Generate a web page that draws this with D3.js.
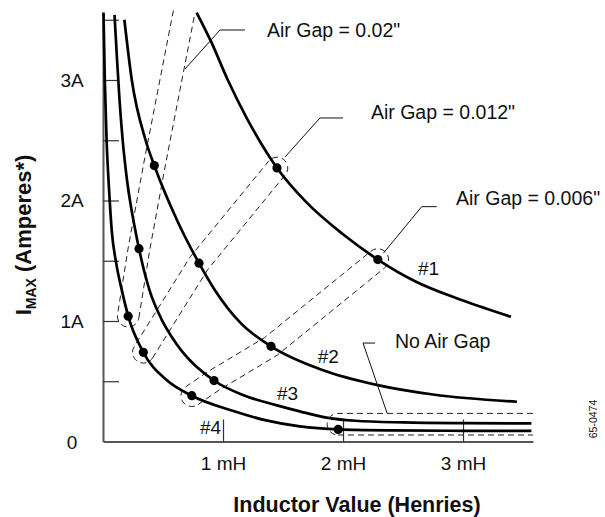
<!DOCTYPE html>
<html><head><meta charset="utf-8">
<script src="https://cdn.jsdelivr.net/npm/d3@7"></script>
<style>
body{margin:0;background:#fff;}
svg text{font-family:"Liberation Sans",Arial,Helvetica,sans-serif;fill:#111;}
</style></head><body>
<svg id="chart" width="605" height="517"></svg>
<script>
// ---------- data (inductance in mH, current in A) ----------
const curveNames = ["#1", "#2", "#3", "#4"];
const curve1 = [[0.78,3.56],[0.90,3.32],[1.04,3.00],[1.20,2.68],[1.45,2.27],[1.70,1.98],[2.00,1.72],[2.29,1.51],[2.60,1.33],[3.00,1.17],[3.40,1.035]];
const curve2 = [[0.178,3.50],[0.24,3.00],[0.355,2.50],[0.4275,2.29],[0.62,1.83],[0.80,1.48],[0.93,1.26],[1.15,0.98],[1.40,0.79],[1.81,0.60],[2.28,0.47],[2.75,0.39],[3.45,0.33]];
const curve3 = [[0.096,3.54],[0.117,3.17],[0.138,2.83],[0.164,2.50],[0.20,2.17],[0.26,1.80],[0.30,1.60],[0.386,1.26],[0.49,1.01],[0.572,0.87],[0.925,0.506],[1.183,0.38],[1.45,0.30],[1.64,0.25],[1.85,0.20],[2.1,0.172],[2.5,0.158],[3.0,0.152],[3.57,0.15]];
const curve4 = [[0.004,3.56],[0.015,3.0],[0.03,2.5],[0.05,2.1],[0.0725,1.755],[0.11,1.48],[0.156,1.26],[0.21,1.04],[0.336,0.74],[0.53,0.51],[0.74,0.38],[1.08,0.255],[1.36,0.175],[1.64,0.125],[1.96,0.100],[2.4,0.092],[3.0,0.089],[3.57,0.088]];

const dots1 = [[1.45,2.27],[2.29,1.51]];
const dots2 = [[0.4275,2.29],[0.80,1.48],[1.40,0.79]];
const dots3 = [[0.30,1.60],[0.925,0.506]];
const dots4 = [[0.21,1.04],[0.336,0.74],[0.74,0.38],[1.96,0.100]];

// air-gap bands (centre line through matching points)
const band002  = [[0.21,1.04],[0.30,1.60],[0.4275,2.29],[0.675,3.56]];
const band0012 = [[0.336,0.74],[0.80,1.48],[1.45,2.27]];
const band0006 = [[0.74,0.38],[0.925,0.506],[1.40,0.79],[2.29,1.51]];
const bandNone = [[1.958,0.1436],[3.583,0.1436]];

const gapLabels = ['Air Gap = 0.02"', 'Air Gap = 0.012"', 'Air Gap = 0.006"', 'No Air Gap'];
const gapLabelAt = [[1.367,3.357],[2.233,2.676],[2.942,1.963],[2.433,0.776]];
const leader002  = [[0.683,3.091],[0.975,3.415],[1.183,3.415]];
const leader0012 = [[1.517,2.361],[1.808,2.685],[2.0,2.685]];
const leader0006 = [[2.336,1.562],[2.656,1.949],[2.781,1.949]];
const leaderNone = [[2.367,0.2365],[2.167,0.817],[2.267,0.817]];

const curveLabelAt = [[2.625,1.382],[1.79,0.651],[1.45,0.344],[0.808,0.062]];

const xTicks = [1, 2, 3];
const xTickLabels = ["1 mH", "2 mH", "3 mH"];
const yTicks = [0.5, 1, 1.5, 2, 2.5, 3, 3.5];
const yLabelValues = [0, 1, 2, 3];
const yLabelTexts = ["0", "1A", "2A", "3A"];

// ---------- drawing ----------
const svg = d3.select("#chart");
const x = d3.scaleLinear().domain([0, 3.5833]).range([103, 533]);
const y = d3.scaleLinear().domain([0, 3.556]).range([441.5, 13]);

// axes
const yAxis = d3.axisLeft(y).tickValues(yTicks).tickSize(-16).tickSizeOuter(0).tickFormat("");
const gy = svg.append("g").attr("transform", `translate(${x(0)},0)`).call(yAxis);
const xAxis = d3.axisBottom(x).tickValues(xTicks).tickSize(-22).tickSizeOuter(0)
  .tickFormat((d, i) => xTickLabels[i]);
const gx = svg.append("g").attr("transform", `translate(0,${y(0)})`).call(xAxis);
[gx, gy].forEach(g => {
  g.select(".domain").attr("stroke", "#555").attr("stroke-width", 2);
  g.selectAll(".tick line").attr("stroke", "#333").attr("stroke-width", 1.2);
});
gx.selectAll(".tick text").attr("y", 28).attr("dy", 0)
  .attr("font-size", 19).attr("fill", "#111").attr("font-family", null);

svg.append("g").selectAll("text").data(yLabelValues).join("text")
  .attr("x", 72).attr("y", d => y(d) + 7)
  .attr("text-anchor", "middle").attr("font-size", 19)
  .text((d, i) => yLabelTexts[i]);

// axis titles
svg.append("text").attr("x", 357).attr("y", 512).attr("text-anchor", "middle")
  .attr("font-size", 21.5).attr("font-weight", "bold").text("Inductor Value (Henries)");
const yt = svg.append("text").attr("transform", "translate(31,235) rotate(-90)")
  .attr("text-anchor", "middle").attr("font-size", 22).attr("font-weight", "bold");
yt.append("tspan").text("I");
yt.append("tspan").attr("font-size", 14).attr("dy", 5).text("MAX");
yt.append("tspan").attr("dy", -5).text(" (Amperes*)");

// bands
function bandPath(data, hw, capStart, capEnd) {
  const p = data.map(d => [x(d[0]), y(d[1])]);
  const n = p.length;
  const segs = [];
  for (let i = 0; i < n - 1; i++) {
    const dx = p[i+1][0] - p[i][0], dy = p[i+1][1] - p[i][1];
    const len = Math.hypot(dx, dy);
    segs.push([-dy / len, dx / len]);
  }
  function off(sign) {
    return p.map((q, i) => {
      if (i === 0) return [q[0] + sign*hw*segs[0][0], q[1] + sign*hw*segs[0][1]];
      if (i === n - 1) return [q[0] + sign*hw*segs[n-2][0], q[1] + sign*hw*segs[n-2][1]];
      const a = segs[i-1], b = segs[i];
      let m = [a[0] + b[0], a[1] + b[1]];
      const ml = Math.hypot(m[0], m[1]); m = [m[0]/ml, m[1]/ml];
      const s = hw / (m[0]*a[0] + m[1]*a[1]);
      return [q[0] + sign*s*m[0], q[1] + sign*s*m[1]];
    });
  }
  const L = off(1), R = off(-1);
  let d = "M" + L.map(q => q.join(",")).join("L");
  if (capEnd) d += `A${hw},${hw} 0 0 0 ${R[n-1].join(",")}`;
  else d += "M" + R[n-1].join(",");
  d += "L" + R.slice().reverse().map(q => q.join(",")).join("L");
  if (capStart) d += `A${hw},${hw} 0 0 0 ${L[0].join(",")}`;
  return d;
}
const bands = [[band002, true, false], [band0012, true, true], [band0006, true, true], [bandNone, true, false]];
svg.append("g").selectAll("path").data(bands).join("path")
  .attr("d", b => bandPath(b[0], 10.8, b[1], b[2]))
  .attr("fill", "none").attr("stroke", "#222").attr("stroke-width", 1)
  .attr("stroke-dasharray", "6,4");

// curves
const line = d3.line().x(d => x(d[0])).y(d => y(d[1])).curve(d3.curveMonotoneX);
svg.append("g").selectAll("path").data([curve1, curve2, curve3, curve4]).join("path")
  .attr("d", line).attr("fill", "none").attr("stroke", "#000").attr("stroke-width", 2.7);

// dots
svg.append("g").selectAll("circle").data([...dots1, ...dots2, ...dots3, ...dots4]).join("circle")
  .attr("cx", d => x(d[0])).attr("cy", d => y(d[1])).attr("r", 4.6).attr("fill", "#000");

// leaders
const leaderLine = d3.line().x(d => x(d[0])).y(d => y(d[1]));
svg.append("g").selectAll("path").data([leader002, leader0012, leader0006, leaderNone]).join("path")
  .attr("d", leaderLine).attr("fill", "none").attr("stroke", "#111").attr("stroke-width", 1);

svg.append("g").selectAll("text").data(gapLabels).join("text")
  .attr("x", (d, i) => x(gapLabelAt[i][0])).attr("y", (d, i) => y(gapLabelAt[i][1]))
  .attr("font-size", 19.5).text(d => d);

svg.append("g").selectAll("text").data(curveNames).join("text")
  .attr("x", (d, i) => x(curveLabelAt[i][0])).attr("y", (d, i) => y(curveLabelAt[i][1]))
  .attr("font-size", 19).text(d => d);

// figure id
svg.append("text").attr("transform", "translate(597,419) rotate(-90)")
  .attr("text-anchor", "middle").attr("font-size", 10.5).attr("fill", "#333").text("65-0474");
</script>
</body></html>
